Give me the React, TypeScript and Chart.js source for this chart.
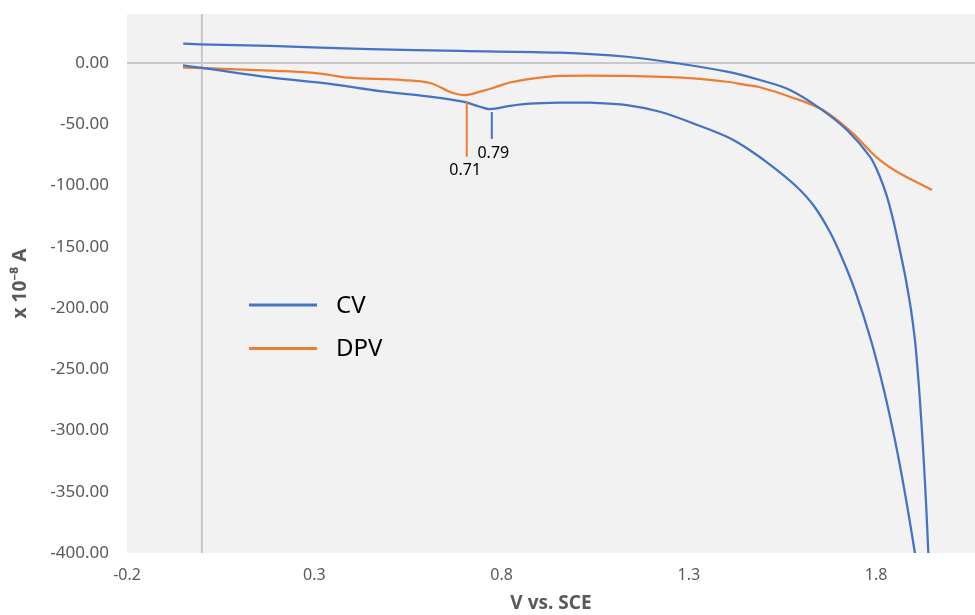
import { useEffect, useRef } from "react";
import { Chart, registerables } from "chart.js";

Chart.register(...registerables);

// CV loop: forward scan (lower branch) then reverse scan (upper branch)
const cvPotential = [
  -0.0505, -0.0051, 0.1817, 0.3419, 0.4754, 0.6089, 0.697, 0.7423, 0.769, 0.8224,
  0.8758, 0.9559, 1.036, 1.1348, 1.2229, 1.3109, 1.4017, 1.4551, 1.5218, 1.5859,
  1.634, 1.6767, 1.7114, 1.7461, 1.7861, 1.8208, 1.8502, 1.8755, 1.9036, 1.9223,
  1.945, 1.9394, 1.9329, 1.9255, 1.9169, 1.9108, 1.9036, 1.8932, 1.8796, 1.8633,
  1.8456, 1.8278, 1.808, 1.7835, 1.7221, 1.65, 1.5699, 1.4898, 1.4017, 1.2682,
  1.1348, 0.9559, 0.6889, 0.4487, 0.1817, -0.0051, -0.0497,
];
const cvCurrent = [
  -2.0, -3.8, -11.7, -17.0, -22.9, -27.5, -31.6, -35.7, -37.6, -35.0,
  -33.2, -32.4, -32.4, -34.3, -39.8, -49.2, -60.2, -69.6, -84.1, -100.4,
  -116.7, -138, -160.8, -187.8, -226.1, -266.9, -307.8, -348.6, -400, -438.4,
  -438.4, -400, -356.7, -315.9, -275.1, -250.6, -226.1, -201.6, -177.1, -152.7,
  -128.2, -107.8, -91.4, -76.5, -54.7, -37, -22, -13.9, -7.1, -0.2,
  5.1, 8.4, 9.8, 11.4, 13.9, 15.3, 15.8,
];

const dpvPotential = [
  -0.0505, 0.075, 0.1817, 0.2885, 0.3419, 0.3873, 0.5368, 0.6089, 0.6703, 0.7068,
  0.7423, 0.777, 0.8224, 0.8678, 0.9559, 1.1348, 1.3109, 1.4017, 1.4551, 1.4898,
  1.5699, 1.658, 1.738, 1.7742, 1.8101, 1.8555, 1.949,
];
const dpvCurrent = [
  -3.7, -4.9, -6.3, -7.9, -9.8, -12, -13.9, -16.3, -24.5, -26.1,
  -23.4, -20.4, -15.9, -13.3, -10.6, -10.6, -12.5, -15.3, -18, -19.8,
  -27.5, -38.4, -57.4, -68.9, -79.2, -88.7, -103.7,
];

const xTicks = [-0.2, 0.3, 0.8, 1.3, 1.8];
const yTicks = [0, -50, -100, -150, -200, -250, -300, -350, -400];

// peak markers: potential, label, series index, line top/bottom current
const peakPotentials = [0.707, 0.774];
const peakLabels = ["0.71", "0.79"];
const peakSeries = [1, 0];
const peakLineTop = [-31.6, -40];
const peakLineBottom = [-76.5, -62];

const seriesNames = ["CV", "DPV"];
const seriesColors = ["#4472C4", "#ED7D31"];

const FONT = "'Noto Sans', 'DejaVu Sans', sans-serif";

const decorPlugin = {
  id: "decor",
  beforeDraw(chart: any) {
    const { ctx, chartArea: a, scales } = chart;
    ctx.save();
    ctx.fillStyle = "#f2f2f2";
    ctx.fillRect(a.left, a.top, a.right - a.left, a.bottom - a.top);
    ctx.strokeStyle = "#c8c8c8";
    ctx.lineWidth = 2;
    const y0 = scales.y.getPixelForValue(0);
    const x0 = scales.x.getPixelForValue(0);
    ctx.beginPath();
    ctx.moveTo(a.left, y0);
    ctx.lineTo(a.right, y0);
    ctx.moveTo(x0, a.top);
    ctx.lineTo(x0, a.bottom);
    ctx.stroke();
    ctx.restore();
  },
  afterDatasetsDraw(chart: any) {
    const { ctx, chartArea: a, scales } = chart;
    ctx.save();
    // peak markers
    peakPotentials.forEach((p, i) => {
      const px = scales.x.getPixelForValue(p);
      const yt = scales.y.getPixelForValue(peakLineTop[i]);
      const yb = scales.y.getPixelForValue(peakLineBottom[i]);
      ctx.strokeStyle = seriesColors[peakSeries[i]];
      ctx.lineWidth = 2;
      ctx.beginPath();
      ctx.moveTo(px, yt);
      ctx.lineTo(px, yb);
      ctx.stroke();
      ctx.fillStyle = "#000000";
      ctx.font = `16px ${FONT}`;
      ctx.textAlign = "center";
      ctx.textBaseline = "middle";
      ctx.fillText(peakLabels[i], px + (i === 0 ? -1.5 : 1.5), yb + 14);
    });
    // legend
    chart.data.datasets.forEach((ds: any, i: number) => {
      const ly = a.top + 291 + i * 43.5;
      ctx.strokeStyle = ds.borderColor;
      ctx.lineWidth = 3;
      ctx.beginPath();
      ctx.moveTo(a.left + 122, ly);
      ctx.lineTo(a.left + 190, ly);
      ctx.stroke();
      ctx.fillStyle = "#000000";
      ctx.font = `24px ${FONT}`;
      ctx.textAlign = "left";
      ctx.textBaseline = "middle";
      ctx.fillText(ds.label, a.left + 209, ly + 1);
    });
    ctx.restore();
  },
};

export default function App() {
  const ref = useRef<HTMLCanvasElement | null>(null);

  useEffect(() => {
    if (!ref.current) return;
    const chart = new Chart(ref.current, {
      type: "scatter",
      data: {
        datasets: [
          {
            label: seriesNames[0],
            data: cvPotential.map((x, i) => ({ x, y: cvCurrent[i] })),
            borderColor: seriesColors[0],
            backgroundColor: seriesColors[0],
            showLine: true,
            borderWidth: 2.25,
            pointRadius: 0,
            tension: 0.35,
          },
          {
            label: seriesNames[1],
            data: dpvPotential.map((x, i) => ({ x, y: dpvCurrent[i] })),
            borderColor: seriesColors[1],
            backgroundColor: seriesColors[1],
            showLine: true,
            borderWidth: 2.25,
            pointRadius: 0,
            tension: 0.35,
          },
        ],
      },
      options: {
        responsive: false,
        animation: false,
        layout: { padding: { top: 14, right: 0, left: 0, bottom: 0 } },
        plugins: {
          legend: { display: false },
          tooltip: { enabled: false },
        },
        scales: {
          x: {
            type: "linear",
            min: -0.2,
            max: 2.064,
            grid: { display: false, drawTicks: false },
            border: { display: false },
            afterBuildTicks: (s: any) => {
              s.ticks = xTicks.map((v) => ({ value: v }));
            },
            afterFit: (s: any) => {
              s.height = 62;
              s.paddingLeft = 0;
              s.paddingRight = 0;
            },
            ticks: {
              padding: 13,
              color: "#595959",
              font: { family: FONT, size: 16 },
              callback: (v: any) => String(Math.round(Number(v) * 10) / 10),
            },
            title: {
              display: true,
              text: "V vs. SCE",
              color: "#595959",
              font: { family: FONT, size: 19, weight: "bold" },
              padding: { top: 0, bottom: 0 },
            },
          },
          y: {
            type: "linear",
            min: -400,
            max: 40,
            grid: { display: false, drawTicks: false },
            border: { display: false },
            afterBuildTicks: (s: any) => {
              s.ticks = yTicks.map((v) => ({ value: v }));
            },
            afterFit: (s: any) => {
              s.width = 127;
              s.paddingTop = 0;
              s.paddingBottom = 0;
            },
            ticks: {
              padding: 18,
              color: "#595959",
              font: { family: FONT, size: 17 },
              callback: (v: any) => Number(v).toFixed(2),
            },
            title: {
              display: true,
              text: "x 10⁻⁸ A",
              color: "#595959",
              font: { family: FONT, size: 19, weight: "bold" },
              padding: { top: 9, bottom: 0 },
            },
          },
        },
      },
      plugins: [decorPlugin],
    } as any);
    return () => chart.destroy();
  }, []);

  return (
    <div style={{ position: "fixed", left: 0, top: 0, width: 975, height: 615, background: "#ffffff" }}>
      <canvas ref={ref} width={975} height={615} />
    </div>
  );
}
